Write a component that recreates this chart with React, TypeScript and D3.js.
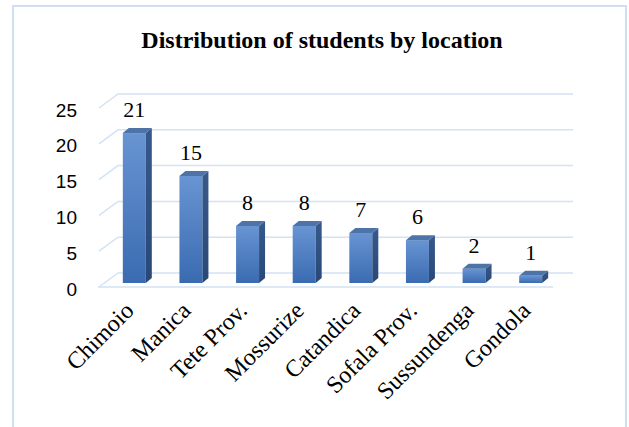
import React from 'react';
import * as d3 from 'd3';

const categories = ['Chimoio', 'Manica', 'Tete Prov.', 'Mossurize', 'Catandica', 'Sofala Prov.', 'Sussundenga', 'Gondola'];
const students = [21, 15, 8, 8, 7, 6, 2, 1];
const yTicks = [0, 5, 10, 15, 20, 25];

const W = 629;
const H = 427;
const serif = "'Liberation Serif', 'Times New Roman', serif";

export default function App() {
  // front face of the bars
  const x = d3.scaleBand().domain(categories).range([106, 559]).paddingInner(0.594).paddingOuter(0.297);
  const y = d3.scaleLinear().domain([0, 25]).range([283, 104.5]);
  // front edge and back wall of the floor / gridlines
  const yFront = d3.scaleLinear().domain([0, 25]).range([287, 108]);
  const yBack = d3.scaleLinear().domain([0, 25]).range([273, 94]);
  const bw = x.bandwidth();
  const dx = 6, dy = -5; // bar depth
  const gx0 = 99, gx1 = 118, gx2 = 573;

  return (
    <svg width={W} height={H} style={{ position: 'absolute', left: 0, top: 0 }}>
      <defs>
        <linearGradient id="front" x1="0" y1="0" x2="0" y2="1">
          <stop offset="0%" stopColor="#6894d2" />
          <stop offset="100%" stopColor="#3a6bb1" />
        </linearGradient>
        <linearGradient id="side" x1="0" y1="0" x2="0" y2="1">
          <stop offset="0%" stopColor="#37598b" />
          <stop offset="100%" stopColor="#294877" />
        </linearGradient>
      </defs>
      <rect x={0} y={0} width={W} height={H} fill="#fff" />
      <rect x={13} y={6} width={613} height={440} fill="none" stroke="#cfdff3" strokeWidth={2} />

      <text x={322} y={48} textAnchor="middle" fontFamily={serif}
        fontWeight="bold" fontSize={24}>Distribution of students by location</text>

      {/* gridlines */}
      <g stroke="#d3e2f5" strokeWidth={1.5} fill="none">
        {yTicks.map(t => (
          <polyline key={t} points={`${gx0},${yFront(t)} ${gx1},${yBack(t)} ${gx2},${yBack(t)}`} />
        ))}
        <line x1={gx0 - 1} x2={553} y1={yFront(0)} y2={yFront(0)} />
      </g>

      {/* y axis labels */}
      <g fontFamily="'Liberation Sans', Arial, sans-serif" fontSize={19} textAnchor="end" fill="#000">
        {yTicks.map(t => (
          <text key={t} x={77} y={yFront(t) + 2} dy="0.35em">{t}</text>
        ))}
      </g>

      {/* bars */}
      {categories.map((c, i) => {
        const x0 = x(c)!;
        const v = students[i];
        const yt = y(v);
        const yb = y(0);
        return (
          <g key={c}>
            <rect x={x0} y={yt} width={bw} height={yb - yt} fill="url(#front)" />
            <polygon points={`${x0 + bw},${yt} ${x0 + bw + dx},${yt + dy} ${x0 + bw + dx},${yb + dy} ${x0 + bw},${yb}`} fill="url(#side)" />
            <polygon points={`${x0},${yt} ${x0 + dx},${yt + dy} ${x0 + bw + dx},${yt + dy} ${x0 + bw},${yt}`} fill="#4d73a8" />
            <text x={x0 + bw / 2} y={yt - 16} textAnchor="middle" fontFamily={serif} fontSize={22}>{v}</text>
          </g>
        );
      })}

      {/* category labels */}
      <g fontFamily={serif} fontSize={24} textAnchor="end">
        {categories.map(c => (
          <text key={c} transform={`translate(${x(c)! + bw / 2 + 1},${312}) rotate(-45)`}>{c}</text>
        ))}
      </g>
    </svg>
  );
}
